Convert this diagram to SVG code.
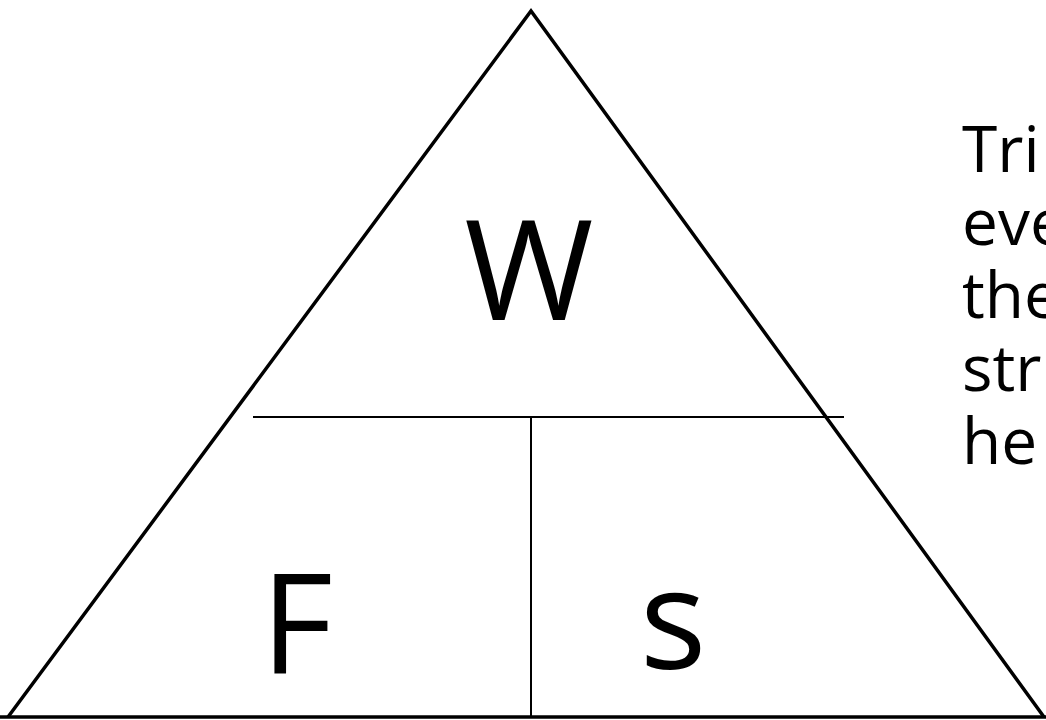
<svg xmlns="http://www.w3.org/2000/svg" width="1046" height="720" viewBox="0 0 1046 720">
<style>
.big{font-family:"Open Sans","Liberation Sans",sans-serif;font-size:140px;fill:#000}
.side{font-family:"Open Sans","Liberation Sans",sans-serif;font-size:64px;fill:#000}
.edge{fill:none;stroke:#000;stroke-width:3.5;stroke-linejoin:miter}
.div{stroke:#000;stroke-width:2;fill:none}
</style>
<rect width="1046" height="720" fill="#fff"/>
<g id="triangle">
<polyline class="edge" points="8,717 531,11 1044,717"/>
<line class="edge" x1="0" y1="717" x2="1046" y2="717"/>
</g>
<g id="connectors">
<line class="div" x1="253" y1="417" x2="844" y2="417"/>
<line class="div" x1="531" y1="417" x2="531" y2="717"/>
</g>
<g id="node-W"><text class="big" x="529" y="320" text-anchor="middle">W</text></g>
<g id="node-F"><text class="big" x="297" y="674" text-anchor="middle">F</text></g>
<g id="node-s"><text class="big" x="673" y="669" text-anchor="middle">s</text></g>
<g id="note">
<text class="side" x="962" y="172">Tri</text>
<text class="side" x="962" y="245">eve</text>
<text class="side" x="962" y="318">the</text>
<text class="side" x="962" y="391">str</text>
<text class="side" x="962" y="464">he</text>
</g>
</svg>
